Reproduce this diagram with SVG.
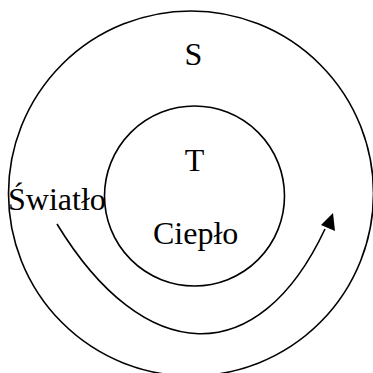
<svg xmlns="http://www.w3.org/2000/svg" width="373" height="373" viewBox="0 0 373 373">
<style>
.ring{fill:none;stroke:#000;stroke-width:1.6}
.lbl{font-family:"Liberation Serif","Times New Roman",serif;font-size:32px;fill:#000}
.conn{fill:none;stroke:#000;stroke-width:1.6}
</style>
<rect width="373" height="373" fill="#fff"/>
<g id="outer">
<circle class="ring" cx="191" cy="193.5" r="182.5"/>
<text class="lbl" x="193.5" y="65" text-anchor="middle">S</text>
</g>
<g id="inner">
<circle class="ring" cx="194.5" cy="196" r="90"/>
<text class="lbl" x="194.5" y="171" text-anchor="middle">T</text>
<text class="lbl" x="153" y="244">Ciepło</text>
</g>
<g id="light">
<text class="lbl" x="8" y="209.5">Światło</text>
</g>
<g id="connectors">
<path class="conn" d="M57,224 C144,367 258,372 325,229"/>
<polygon points="333,213 321,225 335,231" fill="#000"/>
</g>
</svg>
